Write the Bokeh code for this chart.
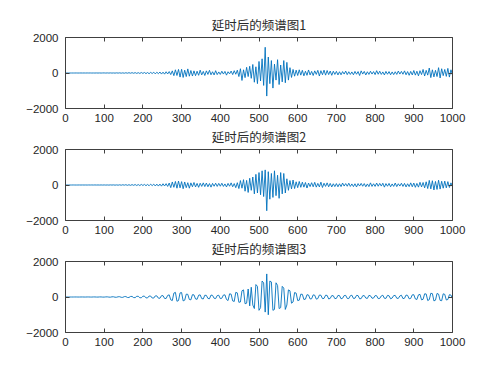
from bokeh.plotting import figure
from bokeh.models import (FixedTicker, LinearAxis, Range1d, ColumnDataSource,
                          CustomLabelingPolicy)
from bokeh.layouts import column
from bokeh.embed import file_html
from bokeh.resources import INLINE

x = list(range(0, 1001, 4))

s1 = [0, 0, 0, 0, 0, 0, 0, 1, -1, 0, 1, -1, 1, -1, 2, -1, 2, -2, 1, -2, 3, -2, 3, -3, 2,
      4, -3, 5, -4, 6, -5, 4, -7, 8, -6, 9, -10, 8, -12, 14, -11, 16, -13, 18, -15, 20, -22, 18, -25, 28,
      -24, 30, -35, 28, -40, 36, -30, 45, -50, 42, -38, 55, -60, 48, -65, 70, -55, 80, -90, 120, -150, 180, -140, 200, -230,
      210, -250, 160, -200, 230, -180, 140, -170, 120, -150, 100, -130, 160, -110, 90, -140, 120, -80, 150, -100, 70, -110, 130, -90, 60,
      -80, 100, -60, 90, -120, 70, -50, 110, -90, 130, -70, 160, -200, 240, -420, 180, -260, 320, -200, 380, -300, 480, -520, 350, -600,
      650, -450, 800, -700, 1450, -1300, 900, -600, 700, -850, 500, -400, 750, -650, 450, -500, 700, -550, 600, -400, 300, -250, 200, -180, 160,
      -140, 180, -120, 150, -160, 100, -130, 170, -110, 90, -140, 120, -80, 150, -170, 130, -100, 160, -120, 140, -90, 110, -130, 100, -80,
      90, -110, 70, -100, 80, -60, 110, -90, 70, -80, 60, -100, 90, -70, 80, -140, 120, -60, 90, -110, 70, -80, 100, -60, 80,
      -90, 130, -70, 100, -80, 60, -110, 90, -70, 80, -100, 60, -90, 70, -80, 110, -60, 90, -70, 120, -100, 80, -130, 90, -110,
      140, -120, 100, -160, 130, -90, 200, -170, 150, -120, 280, -260, 180, -220, 150, -200, 300, -280, 240, -150, 200, -190, 260, -230, 180,
      -120]

s2 = [0, 0, 0, 0, 0, 1, 0, -1, 0, 1, -1, 1, -1, 1, -2, 2, -1, 2, -2, 3, -2, 2, -3, 3, -4,
      4, -5, 3, -6, 6, -4, 7, -8, 6, -9, 10, -12, 14, -10, 16, -18, 15, -20, 22, -19, 25, -28, 24, -30, 32,
      -28, 35, -38, 32, -42, 45, -36, 50, -55, 48, -60, 52, -65, 70, -58, 75, -80, 110, -150, 170, -130, 200, -180, 220, -160,
      190, -210, 170, -150, 130, -180, 120, -100, 140, -110, 90, -130, 100, -80, 120, -90, 110, -100, 80, -120, 90, -70, 100, -80, 90,
      -70, 100, -80, 60, -110, 90, -70, 120, -100, 80, -150, 130, -200, 250, -180, 300, -350, 260, -420, 380, -300, 450, -500, 600, -450,
      700, -550, 800, -650, 850, -1450, 750, -800, 650, -700, 800, -600, 550, -750, 700, -500, 650, -450, 350, -300, 250, -220, 280, -200, 180,
      -150, 200, -130, 160, -120, 140, -170, 110, -90, 130, -100, 150, -120, 90, -110, 160, -140, 100, -80, 120, -100, 90, -110, 70, -90,
      80, -100, 70, -90, 110, -60, 80, -70, 100, -80, 60, -90, 70, -110, 80, -60, 90, -70, 80, -100, 60, -90, 120, -80, 70,
      -80, 110, -70, 90, -60, 100, -120, 80, -70, 90, -100, 60, -80, 110, -90, 70, -60, 100, -80, 90, -110, 70, -90, 120, -100,
      110, -130, 90, -120, 150, -110, 140, -160, 180, -200, 260, -220, 240, -280, 200, -250, 270, -230, 210, -180, 220, -160, 190, -140, 120,
      -100]

s3 = [0, 0, 0, 0, 0, 0, 1, 1, -1, -1, 1, 1, -1, -2, 2, 2, -2, -3, 3, 3, -3, -4, 4, 4, -5,
      -5, 6, 8, -6, -10, 10, 12, -12, -14, 14, 16, -18, -20, 22, 24, -26, -28, 30, 32, -34, -36, 38, 40, -42, -44,
      46, 48, -50, -52, 55, 55, -58, -60, 62, 64, -66, -70, 72, 76, -80, -85, 90, 120, -160, -200, 220, 260, -240, -200, 230,
      250, -220, -180, 160, 150, -140, -160, 130, 120, -110, -130, 100, 120, -90, -110, 100, 90, -80, -100, 110, 90, -70, -90, 80, 100,
      -90, -70, 110, 120, -140, -200, 180, 160, -220, -250, 260, 230, -300, -280, 350, 400, -380, -350, 450, -500, 550, -450, -650, 700, 600,
      -750, -600, 900, 800, -850, 1300, -1000, 900, 850, -750, -700, 800, 650, -650, -600, 600, 500, -700, -450, 400, 350, -350, -280, 250, 220,
      -200, -180, 160, 150, -140, -120, 130, 110, -110, -100, 120, 100, -120, -90, 110, 100, -90, -80, 100, 90, -110, -80, 80, 70, -90,
      -80, 90, 80, -100, -70, 80, 90, -80, -90, 70, 100, -80, -70, 90, 80, -100, -90, 70, 80, -60, -80, 90, 70, -70, -60,
      80, 70, -90, -80, 60, 100, -70, -80, 90, 70, -100, -60, 80, 90, -70, -80, 60, 100, -90, -70, 110, 90, -100, -80, 120,
      130, -110, -140, 120, 150, -160, -130, 180, 170, -200, -150, 210, 190, -220, -180, 200, 160, -190, -210, 180, 150, -170, -140, 130, 110,
      -100]

titles = ["延时后的频谱图1", "延时后的频谱图2", "延时后的频谱图3"]
x_ticks = [0, 100, 200, 300, 400, 500, 600, 700, 800, 900, 1000]
y_ticks = [-2000, 0, 2000]

AX = "#404040"
LINE = "#0072BD"

HIDE_JS = """
try { indices.clear() } catch (e) {
  const n = indices.size
  for (let i = 0; i < n; i++) { indices.unset(i) }
}
return indices
"""


def make(title, ys, top, bottom):
    p = figure(frame_width=387, frame_height=71,
               x_range=Range1d(0, 1000), y_range=Range1d(-2000, 2000),
               output_backend="svg", toolbar_location=None,
               min_border_left=65, min_border_right=48,
               min_border_top=top, min_border_bottom=bottom,
               title=title)
    p.title.align = "center"
    p.title.text_font = "Noto Sans CJK SC"
    p.title.text_font_size = "12.5px"
    p.title.text_font_style = "normal"
    p.title.text_color = "#2a2a2a"
    p.title.standoff = 0
    p.title.offset = 0
    p.add_layout(LinearAxis(), "above")
    p.add_layout(LinearAxis(), "right")
    for ax in p.xaxis:
        ax.ticker = FixedTicker(ticks=x_ticks)
    for ax in p.yaxis:
        ax.ticker = FixedTicker(ticks=y_ticks)
    for ax in p.axis:
        ax.axis_line_color = AX
        ax.major_tick_line_color = AX
        ax.major_tick_in = 4
        ax.major_tick_out = 0
        ax.minor_tick_line_color = None
        ax.major_label_text_font = "Liberation Sans"
        ax.major_label_text_font_size = "11.5px"
        ax.major_label_text_color = "#262626"
        ax.major_label_standoff = 5
    for ax in p.above + p.right:
        if isinstance(ax, LinearAxis):
            ax.major_label_policy = CustomLabelingPolicy(code=HIDE_JS)
            ax.major_label_text_font_size = "1px"
            ax.major_label_standoff = 0
    p.yaxis[0].major_label_standoff = 7
    p.xgrid.grid_line_color = None
    p.ygrid.grid_line_color = None
    p.outline_line_color = None
    src = ColumnDataSource(dict(x=x, y=ys))
    p.line("x", "y", source=src, line_color=LINE, line_width=0.9)
    return p


p1 = make(titles[0], s1, 37, 10)
p2 = make(titles[1], s2, 10, 10)
p3 = make(titles[2], s3, 10, 22)
layout = column(p1, p2, p3, spacing=0)

open("out.html", "w").write(file_html(layout, INLINE))
